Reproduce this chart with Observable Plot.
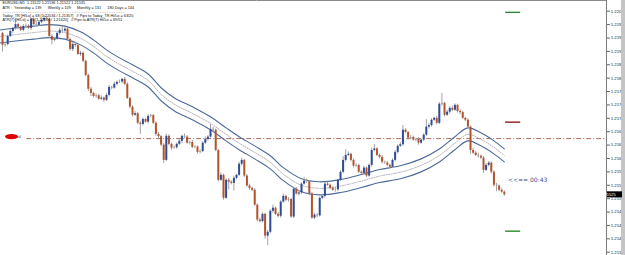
<!DOCTYPE html>
<html><head><meta charset="utf-8">
<script src="https://cdn.jsdelivr.net/npm/d3@7"></script>
<script src="https://cdn.jsdelivr.net/npm/@observablehq/plot@0.6"></script>
<style>
html,body{margin:0;padding:0;background:#fff;}
#chart{width:625px;height:255px;overflow:hidden;}
svg{display:block}
svg text{white-space:pre;}
</style></head><body><div id="chart"></div>
<script>
// ---- data (EURUSD M1) ----
const firstOpen = 1.21947;
const closes = [
1.21916,1.21918,1.21939,1.21952,1.21960,1.21970,1.21963,1.21955,1.21965,1.21966,
1.21960,1.21983,1.21970,1.21968,1.21976,1.21981,1.21986,1.21984,1.21939,1.21929,
1.21932,1.21947,1.21955,1.21953,1.21958,1.21931,1.21905,1.21918,1.21915,1.21892,
1.21895,1.21874,1.21837,1.21801,1.21790,1.21782,1.21784,1.21775,1.21778,1.21772,
1.21785,1.21806,1.21804,1.21814,1.21819,1.21820,1.21827,1.21814,1.21777,1.21754,
1.21733,1.21737,1.21712,1.21709,1.21722,1.21715,1.21730,1.21732,1.21712,1.21683,
1.21677,1.21655,1.21615,1.21678,1.21657,1.21647,1.21648,1.21657,1.21665,1.21678,
1.21676,1.21660,1.21662,1.21649,1.21650,1.21636,1.21638,1.21660,1.21670,1.21676,
1.21696,1.21694,1.21641,1.21563,1.21576,1.21516,1.21563,1.21558,1.21555,1.21568,
1.21576,1.21605,1.21615,1.21574,1.21548,1.21542,1.21537,1.21498,1.21459,1.21455,
1.21474,1.21417,1.21427,1.21482,1.21490,1.21474,1.21469,1.21506,1.21521,1.21511,
1.21513,1.21467,1.21540,1.21527,1.21530,1.21553,1.21561,1.21559,1.21527,1.21464,
1.21472,1.21470,1.21516,1.21521,1.21553,1.21550,1.21542,1.21537,1.21538,1.21563,
1.21584,1.21615,1.21628,1.21631,1.21615,1.21600,1.21602,1.21584,1.21581,1.21595,
1.21574,1.21602,1.21641,1.21645,1.21628,1.21623,1.21610,1.21608,1.21602,1.21597,
1.21615,1.21636,1.21652,1.21656,1.21694,1.21688,1.21673,1.21675,1.21668,1.21670,
1.21660,1.21668,1.21681,1.21702,1.21706,1.21720,1.21725,1.21712,1.21762,1.21764,
1.21733,1.21741,1.21751,1.21746,1.21759,1.21743,1.21740,1.21725,1.21720,1.21702,
1.21641,1.21634,1.21628,1.21626,1.21621,1.21589,1.21602,1.21608,1.21584,1.21550,
1.21548,1.21537,1.21532,1.21525];
// wick extents beyond the body, in points (0.00001)
const wickUp = [
3,5,4,6,3,15,4,3,5,6, 4,3,5,6,4,3,8,5,3,4, 5,4,6,10,4,3,4,5,6,3, 5,4,3,4,5,3,5,4,6,3,
4,5,3,6,4,5,3,5,4,3, 4,6,3,5,4,3,5,4,3,4, 5,3,4,6,4,3,5,4,6,3, 6,4,3,5,4,3,5,4,6,4,
13,5,3,3,6,3,4,5,4,6, 3,5,6,3,4,5,3,4,3,5, 4,3,5,4,8,3,5,4,6,3, 5,3,5,4,6,3,10,5,3,4,
5,4,3,5,4,5,3,4,6,3, 4,10,15,6,3,4,5,3,4,5, 3,4,6,12,3,4,5,3,4,3, 4,5,3,6,12,4,3,5,4,3,
5,3,4,20,6,4,3,5,4,26, 3,5,4,6,4,3,5,4,3,4, 3,5,4,6,3,4,5,4,3,4, 5,3,4,3];
const wickDn = [
18,5,4,3,5,4,6,3,4,5, 3,6,4,5,3,4,5,3,5,12, 4,3,5,6,3,4,5,6,4,3, 5,4,3,6,8,4,5,3,4,5,
3,4,5,3,4,3,5,4,3,4, 5,3,4,26,4,3,5,4,3,5, 8,4,8,3,4,5,3,4,3,5, 4,3,5,4,3,5,4,3,4,5,
3,4,3,4,3,5,3,20,4,20, 4,3,5,4,3,5,4,3,5,4, 3,8,25,4,5,3,4,5,3,4, 5,3,4,3,5,4,3,4,5,3,
4,5,3,4,5,3,4,3,5,4, 3,4,5,3,4,5,3,4,3,5, 4,3,5,4,3,4,5,3,4,5, 3,4,5,3,4,3,5,4,3,4,
5,3,4,3,5,4,3,4,3,5, 4,3,5,4,3,4,5,3,4,3, 10,4,3,5,4,8,3,4,5,5, 15,4,3,4];
// envelope indicator, sampled at bar index
const bandIdx = [-1,5,12,18,24,30,35,40,45,50,56,61,66,73,80,86,91,97,103,108,115,122,130,138,145,153,161,168,174,179,184,189,193];
const bandUpper = [1.21956,1.21961,1.21966,1.21970,1.21966,1.21951,1.21930,1.21904,1.21883,1.21865,1.21841,1.21805,1.21779,1.21755,1.21729,1.21700,1.21677,1.21653,1.21627,1.21596,1.21567,1.21559,1.21565,1.21578,1.21591,1.21601,1.21619,1.21645,1.21677,1.21700,1.21687,1.21666,1.21645];
const bandMid = [1.21939,1.21944,1.21949,1.21953,1.21949,1.21934,1.21913,1.21887,1.21866,1.21848,1.21824,1.21788,1.21762,1.21738,1.21712,1.21683,1.21660,1.21636,1.21610,1.21579,1.21550,1.21542,1.21548,1.21561,1.21574,1.21584,1.21602,1.21628,1.21660,1.21683,1.21670,1.21649,1.21628];
const bandLower = [1.21922,1.21927,1.21932,1.21936,1.21932,1.21917,1.21896,1.21870,1.21849,1.21831,1.21807,1.21771,1.21745,1.21721,1.21695,1.21666,1.21643,1.21619,1.21593,1.21562,1.21533,1.21525,1.21531,1.21544,1.21557,1.21567,1.21585,1.21611,1.21643,1.21666,1.21653,1.21632,1.21611];
const yTicks = [1.22005,1.21970,1.21935,1.21900,1.21865,1.21830,1.21795,1.21760,1.21725,1.21690,1.21655,1.21620,1.21585,1.21550,1.21515,1.21480,1.21445,1.21410,1.21375];
const pivotLevel = 1.21672;
const pivotLabel = "val";
const levelNames = ["hi","mid","lo"];
const levelPrices = [1.22002, 1.21715, 1.21430];
const timerText = "<<== 00:43";
const infoLines = [
"EURUSD,M1  1.21522 1.21536 1.21522 1.21535",
"ATR :  Yesterday = 139      Weekly = 109      Monthly = 131      180 Days = 144",
"- - - - - - - - - - - - - - - - - - - - - - - - - - - - - - - - - - - - - - - - - - - - - - - - - - - - -",
"Today_TR [H/Lo] = 68 [1.22034 / 1.21357]   // Pips to Today_TR Hi/Lo = 63/20",
"ATR(7) [H/Lo] = 79 [1.22244 / 1.21420]   // Pips to ATR(7) Hi/Lo = 69/51"
];

// ---- build ----
const candles = closes.map((c, i) => {
  const o = i === 0 ? firstOpen : closes[i - 1];
  return {i, o, c, hi: Math.max(o, c) + wickUp[i] * 1e-5, lo: Math.min(o, c) - wickDn[i] * 1e-5};
});
const bands = bandIdx.map((i, k) => ({i, upper: bandUpper[k], mid: bandMid[k], lower: bandLower[k]}));
const levels = levelNames.map((n, k) => ({n, price: levelPrices[k]}));
const last = candles[candles.length - 1];

const W = 625, H = 255, MR = 19;
const xDomain = [-0.77, 232.3];
const yDomain = [1.213664, 1.220330];
const BULL = "#2d4b98", BEAR = "#b3532c", WICK = "#a3a3a3", BAND = "#4c6a9c";

const chart = Plot.plot({
  width: W, height: H, marginLeft: 0, marginRight: MR, marginTop: 0, marginBottom: 0,
  x: {domain: xDomain, axis: null},
  y: {domain: yDomain, axis: null},
  style: {background: "#fff", fontFamily: "'Liberation Sans', Arial, sans-serif", overflow: "visible"},
  marks: [
    Plot.ruleY([pivotLevel], {x1: 9.3, x2: xDomain[1], stroke: "#a35a4c", strokeWidth: 0.9, strokeDasharray: "5,2,1,2"}),
    Plot.line(bands, {x: "i", y: "upper", stroke: BAND, strokeWidth: 1.1, curve: "catmull-rom"}),
    Plot.line(bands, {x: "i", y: "mid", stroke: "#a9a9b0", strokeWidth: 0.9, strokeDasharray: "1.2,1.3", curve: "catmull-rom"}),
    Plot.line(bands, {x: "i", y: "lower", stroke: BAND, strokeWidth: 1.1, curve: "catmull-rom"}),
    Plot.ruleX(candles, {x: "i", y1: "lo", y2: "hi", stroke: WICK, strokeWidth: 1}),
    Plot.ruleX(candles, {x: "i", y1: "o", y2: "c", strokeWidth: 2,
      stroke: d => Math.abs(d.c - d.o) < 0.000025 ? "#9c9c9c" : (d.c > d.o ? BULL : BEAR)}),
    Plot.ruleY(levels, {y: "price", x1: 193.5, x2: 199.3, strokeWidth: 1.4,
      stroke: d => d.n === "mid" ? "#8e1b1b" : "#2e8a2e"}),
    Plot.text([timerText], {x: () => last.i + 1.4, y: () => last.c, dy: -15, text: d => d,
      textAnchor: "start", fontSize: 6, fill: "#3b4f95", fontFamily: "'DejaVu Sans', sans-serif"}),
    Plot.axisY(yTicks, {anchor: "right", tickSize: 3, tickPadding: 1.2, fontSize: 4.3,
      tickFormat: d => d.toFixed(5), fill: "#222", stroke: "#666", label: null}),
    Plot.text([infoLines.join("\n")], {frameAnchor: "top-left", lineAnchor: "top", dx: 2, dy: 1,
      lineHeight: 1.1, fontSize: 3.8, fill: "#111", textAnchor: "start"})
  ]
});

// chrome: frame lines, scrollbar, price tag, pivot marker
const xs = d3.scaleLinear(xDomain, [0, W - MR]);
const ys = d3.scaleLinear(yDomain, [H, 0]);
const svg = d3.select(chart);
const g = svg.append("g");
g.append("line").attr("x1", 0).attr("x2", W - MR).attr("y1", 0.5).attr("y2", 0.5).attr("stroke", "#8a8a8a");
g.append("line").attr("x1", W - MR + 0.5).attr("x2", W - MR + 0.5).attr("y1", 0).attr("y2", H).attr("stroke", "#7a7a7a");
g.append("rect").attr("x", 621).attr("y", 0).attr("width", 4).attr("height", H).attr("fill", "#c4c4c4");
const ty = ys(last.c);
g.append("rect").attr("x", W - MR + 1).attr("y", ty - 3).attr("width", 15).attr("height", 6).attr("fill", "#000");
g.append("text").attr("x", W - MR + 2.5).attr("y", ty + 1.4).attr("font-size", 4).attr("fill", "#fff")
  .attr("font-family", "'Liberation Sans', Arial, sans-serif").text(last.c.toFixed(5));
const py = ys(pivotLevel);
g.append("ellipse").attr("cx", 11.5).attr("cy", py - 1.5).attr("rx", 6.5).attr("ry", 2.6).attr("fill", "#e00000");
g.append("text").attr("x", 18.5).attr("y", py).attr("font-size", 3.6).attr("fill", "#333")
  .attr("font-family", "'Liberation Sans', Arial, sans-serif").text(pivotLabel);

document.getElementById("chart").appendChild(chart);
</script>
</body></html>
